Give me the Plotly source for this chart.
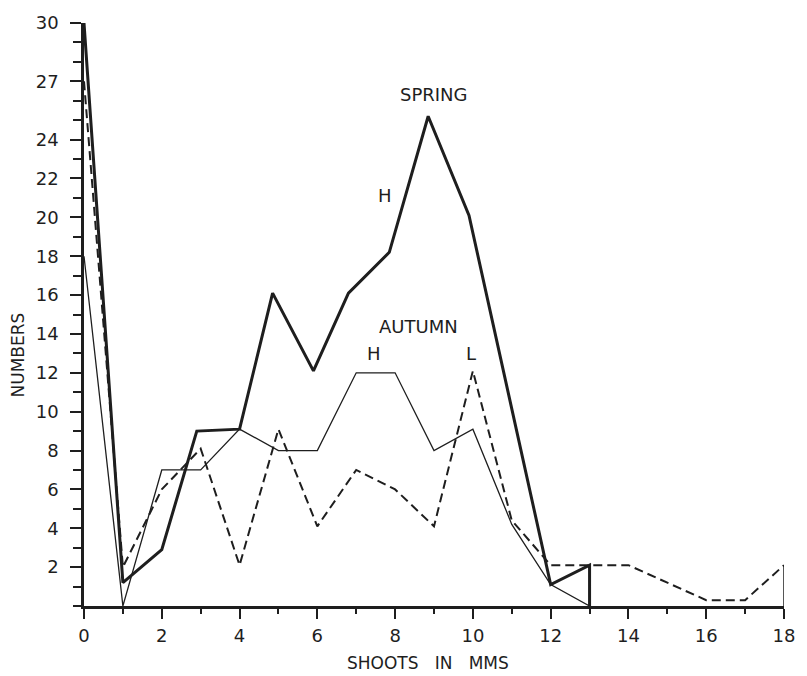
import plotly.graph_objects as go

# Spring (thick solid line)
spring_x = [0, 1, 2, 2.9, 4, 4.85, 5.9, 6.8, 7.85, 8.85, 9.9, 12, 13, 13]
spring_y = [30, 1.2, 2.9, 9, 9.1, 16.1, 12.1, 16.1, 18.2, 25.2, 20.1, 1.1, 2.1, 0]

# Autumn H (thin solid line)
autumn_h_x = [0, 1, 2, 3, 4, 5, 6, 7, 8, 9, 10, 11, 12, 13]
autumn_h_y = [18, 0, 7, 7, 9.1, 8, 8, 12, 12, 8, 9.1, 4.2, 1.1, 0]

# Autumn L (dashed line)
autumn_l_x = [0, 1, 2, 3, 4, 5, 6, 7, 8, 9, 10, 11, 12, 13, 14, 15, 16, 17, 18]
autumn_l_y = [27, 2, 6, 8.1, 2.1, 9.1, 4.1, 7, 6, 4.1, 12.1, 4.4, 2.1, 2.1, 2.1, 1.2, 0.3, 0.3, 2.1]

y_tickvals = [2, 4, 6, 8, 10, 12, 14, 16, 18, 20, 22, 24, 27, 30]
x_tickvals = [0, 2, 4, 6, 8, 10, 12, 14, 16, 18]

INK = "#1e1e1e"
FONT = "DejaVu Sans"

fig = go.Figure()
fig.add_trace(go.Scatter(x=autumn_h_x, y=autumn_h_y, mode="lines",
                         line=dict(color=INK, width=1.3), showlegend=False))
fig.add_trace(go.Scatter(x=autumn_l_x, y=autumn_l_y, mode="lines",
                         line=dict(color=INK, width=2, dash="9px,5px"), showlegend=False))
# closing drop of the dashed series to the axis (solid)
fig.add_trace(go.Scatter(x=[autumn_l_x[-1], autumn_l_x[-1]], y=[autumn_l_y[-1], 0], mode="lines",
                         line=dict(color=INK, width=1.5), showlegend=False))
fig.add_trace(go.Scatter(x=spring_x, y=spring_y, mode="lines",
                         line=dict(color=INK, width=3), showlegend=False))

labels = [("SPRING", 9.0, 26.3), ("H", 7.73, 21.1), ("AUTUMN", 8.59, 14.37),
          ("H", 7.45, 13.0), ("L", 9.94, 13.0)]
for txt, lx, ly in labels:
    fig.add_annotation(x=lx, y=ly, text=txt, showarrow=False,
                       font=dict(family=FONT, size=18, color=INK),
                       xanchor="center", yanchor="middle")

fig.add_annotation(xref="paper", yref="paper", x=0.4915, y=-0.098,
                   text="SHOOTS\u00a0\u00a0\u00a0IN\u00a0\u00a0\u00a0MMS", showarrow=False,
                   font=dict(family=FONT, size=17, color=INK),
                   xanchor="center", yanchor="middle")
fig.add_annotation(xref="paper", yref="paper", x=-0.0946, y=0.431,
                   text="NUMBERS", showarrow=False, textangle=-90,
                   font=dict(family=FONT, size=17, color=INK),
                   xanchor="center", yanchor="middle")

fig.update_xaxes(range=[0, 18], tickmode="array", tickvals=x_tickvals,
                 ticktext=[str(v) for v in x_tickvals],
                 ticks="outside", ticklen=10, tickwidth=2, tickcolor=INK,
                 showline=True, linewidth=2.5, linecolor=INK, showgrid=False, zeroline=False,
                 tickfont=dict(family=FONT, size=18, color=INK), ticklabelstandoff=2,
                 minor=dict(tickmode="linear", tick0=0, dtick=1, ticks="outside",
                            ticklen=5, tickwidth=1.5, tickcolor=INK, showgrid=False))
fig.update_yaxes(range=[0, 30], tickmode="array", tickvals=y_tickvals,
                 ticktext=[str(v) for v in y_tickvals],
                 ticks="outside", ticklen=11, tickwidth=2, tickcolor=INK,
                 showline=True, linewidth=2.5, linecolor=INK, showgrid=False, zeroline=False,
                 tickfont=dict(family=FONT, size=18, color=INK), ticklabelstandoff=8,
                 minor=dict(tickmode="linear", tick0=0, dtick=1, ticks="outside",
                            ticklen=8, tickwidth=1.5, tickcolor=INK, showgrid=False))

fig.update_layout(width=807, height=676,
                  margin=dict(l=84, r=15, t=17, b=70),
                  paper_bgcolor="white", plot_bgcolor="white",
                  showlegend=False)

fig.write_html("out.html")
